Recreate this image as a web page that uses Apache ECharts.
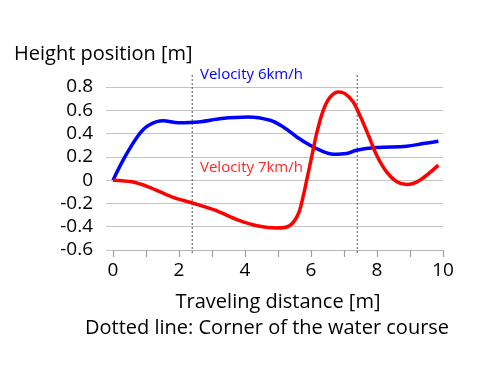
<!DOCTYPE html>
<html><head><meta charset="utf-8">
<script src="https://cdn.jsdelivr.net/npm/echarts@6/dist/echarts.min.js"></script>
<style>html,body{margin:0;padding:0;background:#fff}#c{width:500px;height:373px}</style>
</head><body><div id="c"></div>
<script>
var blueX = [0,0.36,0.77,1.07,1.52,1.98,2.59,3.29,4.1,4.76,5.16,5.57,5.97,6.27,6.68,7.08,7.38,7.99,8.9,9.4,9.86];
var blueY = [0,0.2,0.386,0.47,0.51,0.494,0.5,0.53,0.543,0.514,0.457,0.371,0.3,0.257,0.223,0.229,0.257,0.28,0.291,0.314,0.334];
var redX = [0,0.57,1.07,1.78,2.38,3.09,3.8,4.4,4.96,5.36,5.62,5.77,5.87,6.02,6.17,6.37,6.58,6.83,7.03,7.28,7.48,7.74,7.99,8.29,8.6,8.9,9.3,9.86];
var redY = [0,-0.014,-0.057,-0.143,-0.194,-0.257,-0.343,-0.394,-0.412,-0.39,-0.286,-0.129,0,0.2,0.4,0.6,0.714,0.757,0.743,0.671,0.557,0.386,0.214,0.071,-0.014,-0.037,0,0.129];
var corners = [2.4, 7.4];
var seriesNames = ['Velocity 6km/h', 'Velocity 7km/h'];
var yTitle = 'Height position [m]';
var xTitle = 'Traveling distance [m]';
var caption = 'Dotted line: Corner of the water course';

function pairs(xs, ys){ return xs.map(function(x,i){ return [x, ys[i]]; }); }
var FONT = '"Open Sans", sans-serif';
var GRID = '#c4c4c4';
var chart = echarts.init(document.getElementById('c'), null, {renderer:'canvas'});
var cornerSeries = corners.map(function(c){
  return {type:'line', xAxisIndex:1, yAxisIndex:1, data:[[c,0],[c,1]], showSymbol:false, silent:true,
    lineStyle:{color:'#555', type:[2,2], width:1}, z:1};
});
chart.setOption({
  animation:false,
  grid:[{left:113, right:57, top:87, bottom:123, containLabel:false},
        {left:113, right:57, top:73, bottom:120, containLabel:false}],
  xAxis:[{type:'value', min:0, max:10, interval:1, gridIndex:0, position:'bottom',
    axisLine:{show:true, onZero:false, lineStyle:{color:'#b4b4b4', width:1.2}},
    axisTick:{show:true, inside:false, length:7, lineStyle:{color:'#a0a0a0', width:1.2}},
    splitLine:{show:false},
    axisLabel:{fontFamily:FONT, fontSize:19, color:'#000', margin:11,
      formatter:function(v){ return (Math.round(v) % 2 === 0) ? String(v) : ''; }},
    name:xTitle, nameLocation:'middle', nameGap:42,
    nameTextStyle:{fontFamily:FONT, fontSize:20, color:'#000'}
  },{type:'value', min:0, max:10, gridIndex:1, show:false}],
  yAxis:[{type:'value', min:-0.6, max:0.8, interval:0.2, gridIndex:0,
    axisLine:{show:false},
    axisTick:{show:true, length:7, lineStyle:{color:GRID}},
    splitLine:{show:true, lineStyle:{color:GRID, width:1}},
    axisLabel:{fontFamily:FONT, fontSize:19, color:'#000', margin:20,
      formatter:function(v){ return String(Math.round(v*10)/10); }}
  },{type:'value', min:0, max:1, gridIndex:1, show:false}],
  graphic:[
    {type:'text', left:14, top:44, style:{text:yTitle, font:'20px "Open Sans", sans-serif', fill:'#000'}},
    {type:'text', left:200, top:67, style:{text:seriesNames[0], font:'15px "Open Sans", sans-serif', fill:'#0000ff'}},
    {type:'text', left:200, top:160, style:{text:seriesNames[1], font:'15px "Open Sans", sans-serif', fill:'#ff2828'}},
    {type:'text', left:85, top:318, style:{text:caption, font:'20px "Open Sans", sans-serif', fill:'#000'}}
  ],
  series:cornerSeries.concat([
    {type:'line', name:seriesNames[0], data:pairs(blueX, blueY), smooth:0.35, showSymbol:false,
      lineStyle:{color:'#0000ff', width:3.5}, z:3},
    {type:'line', name:seriesNames[1], data:pairs(redX, redY), smooth:0.3, showSymbol:false,
      lineStyle:{color:'#ff0000', width:3.5}, z:3}
  ])
});
</script></body></html>
